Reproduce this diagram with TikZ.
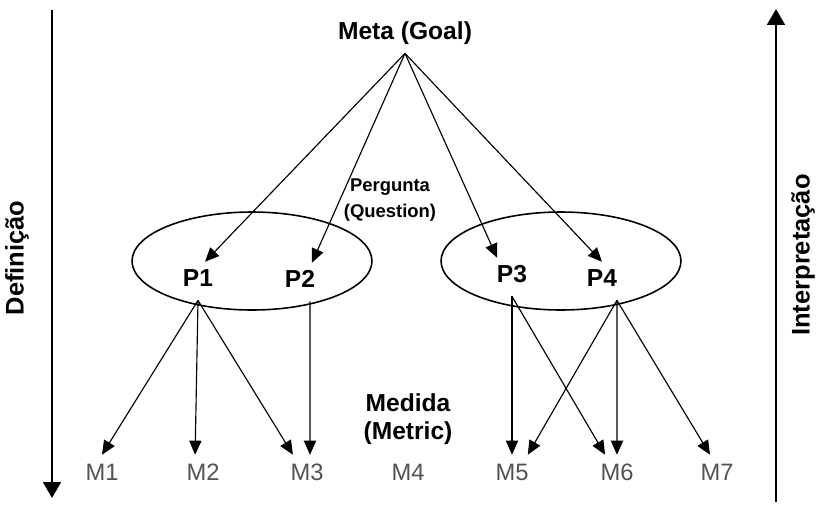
\documentclass[tikz,border=0pt]{standalone}
\usepackage{fontspec}
\setmainfont{Liberation Sans}
\usetikzlibrary{arrows.meta, calc, shapes.geometric}
\tikzset{
    link/.style={-{Triangle[length=8pt,width=7pt]}, line width=0.65pt},
    side/.style={-{Triangle[length=9pt,width=10pt]}, line width=1.5pt},
    heading/.style={font=\fontsize{14}{16}\selectfont\bfseries, inner sep=0pt},
    qnode/.style={font=\fontsize{14}{16}\selectfont\bfseries, inner sep=0pt,
        text height=13.6pt, text depth=8pt, anchor=base},
    mnode/.style={font=\fontsize{13.5}{15}\selectfont, text=black!68, inner sep=0pt,
        text height=14.2pt, text depth=0pt, anchor=base},
    group/.style={draw, ellipse, line width=0.9pt, minimum width=4.8cm,
        minimum height=1.96cm, inner sep=0pt},
    sidetext/.style={font=\fontsize{14.5}{16}\selectfont\bfseries, rotate=90}
}
\begin{document}
\begin{tikzpicture}[x=0.02cm, y=-0.02cm]
    \useasboundingbox (0,0) rectangle (819,505);

    % eixos laterais
    \coordinate (deftop) at (52,10); \coordinate (defbot) at (52,498);
    \coordinate (intbot) at (776,502); \coordinate (inttop) at (776,9);
    \draw[side] (deftop) -- (defbot);
    \draw[side] (intbot) -- (inttop);
    \node[sidetext] (defn) at (17,258) {Definição};
    \node[sidetext] (intp) at (803,255) {Interpretação};

    % meta e perguntas
    \node[heading, anchor=base, text depth=8pt] (goal) at (405,39) {Meta (Goal)};
    \node[group] (q12) at (252,261) {};
    \node[group] (q34) at (561,261) {};
    \node[heading, font=\fontsize{10.5}{14.5}\selectfont\bfseries, align=center] (quest) at (390,200) {Pergunta\\(Question)};
    \node[qnode] (p1) at (198,286) {P1};
    \node[qnode] (p2) at (300,287) {P2};
    \node[qnode] (p3) at (512,282) {P3};
    \node[qnode] (p4) at (602,286) {P4};

    \draw[link] (goal.south) -- ([xshift=4pt]p1.north);
    \draw[link] (goal.south) -- ([xshift=6.8pt]p2.north);
    \draw[link] (goal.south) -- ([xshift=-8.5pt]p3.north);
    \draw[link] (goal.south) -- (p4.north);

    % medidas
    \node[heading, align=center] (metric) at (408,419) {Medida\\(Metric)};
    \foreach \i/\x in {1/102, 2/203, 3/307, 4/408, 5/512, 6/617, 7/717}
        \node[mnode] (m\i) at (\x,480) {M\i};

    \draw[link] (p1.south) -- (m1.north);
    \draw[link] (p1.south) -- ([xshift=-4.5pt]m2.north);
    \draw[link] (p1.south) -- ([xshift=-8pt]m3.north);
    \draw[link] ([xshift=5.7pt]p2.south) -- ([xshift=1.7pt]m3.north);
    \draw[link] (p3.south) -- (m5.north);
    \draw[link] (p3.south) -- ([xshift=-6.8pt]m6.north);
    \draw[link] ([xshift=8.5pt]p4.south) -- ([xshift=9pt]m5.north);
    \draw[link] ([xshift=8.5pt]p4.south) -- (m6.north);
    \draw[link] ([xshift=8.5pt]p4.south) -- ([xshift=-4pt]m7.north);
\end{tikzpicture}
\end{document}
